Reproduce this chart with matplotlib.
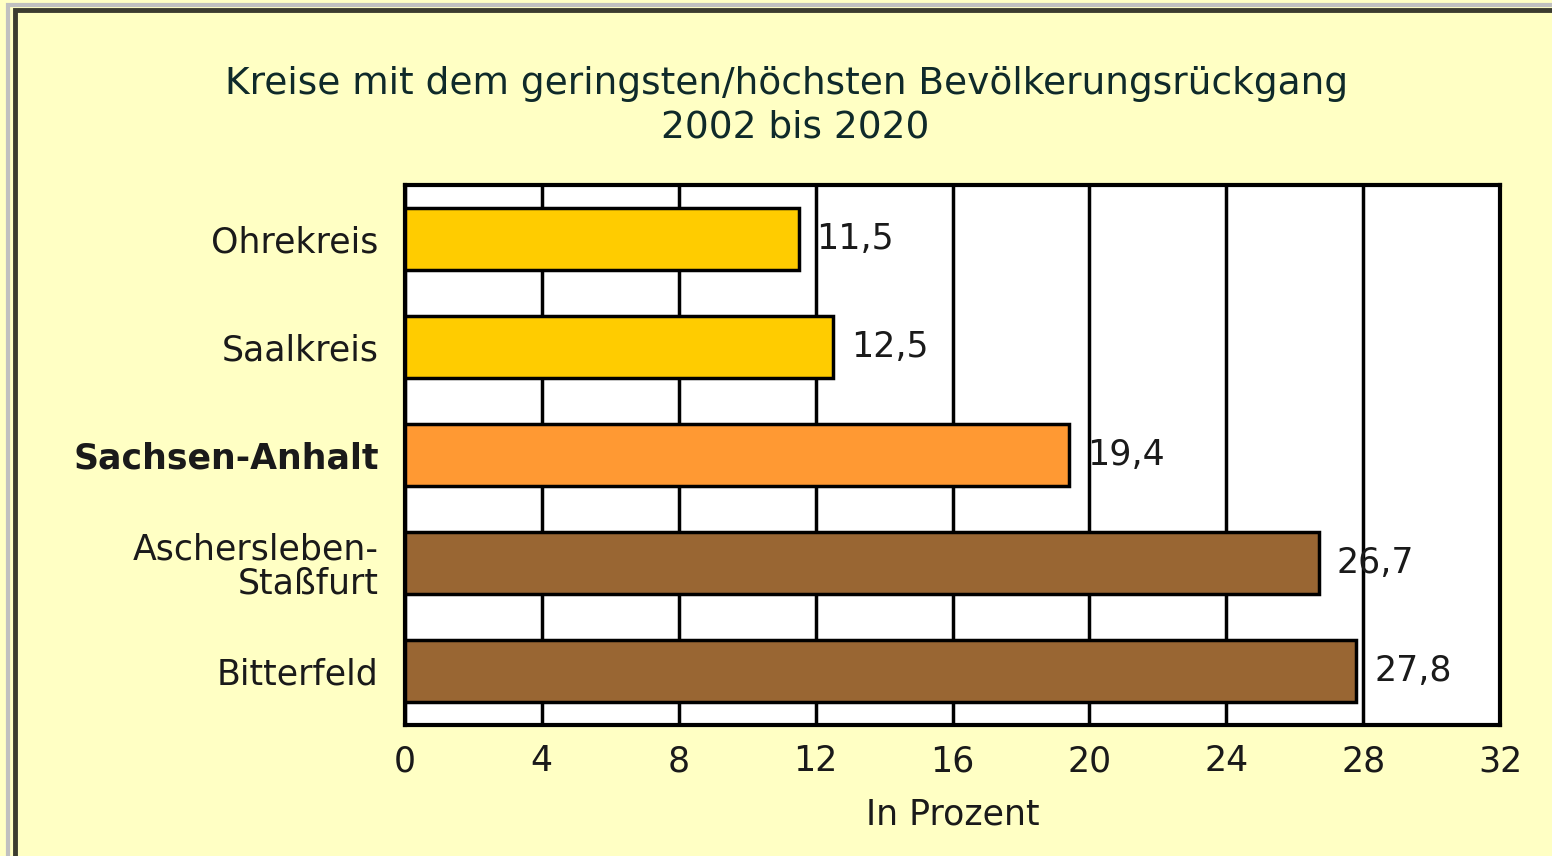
import matplotlib
matplotlib.use("Agg")
import matplotlib.pyplot as plt
from matplotlib.patches import Rectangle

# Daten
kreise = ["Ohrekreis", "Saalkreis", "Sachsen-Anhalt", "Aschersleben-\nStaßfurt", "Bitterfeld"]
rueckgang = [11.5, 12.5, 19.4, 26.7, 27.8]
farben = ["#FFCC00", "#FFCC00", "#FF9933", "#996633", "#996633"]
x_ticks = [0, 4, 8, 12, 16, 20, 24, 28, 32]

plt.rcParams["font.family"] = ["DejaVu Sans"]
bg = "#FFFFC4"
txt = "#1A1A1A"
fs = 25

fig = plt.figure(figsize=(15.52, 8.56), dpi=100)
fig.patch.set_facecolor(bg)

# Rahmen oben/links
fig.add_artist(Rectangle((8 / 1552, -0.1), 1.2, (856 - 5) / 856 + 0.1, transform=fig.transFigure,
                         facecolor="none", edgecolor="#C0C0C0", linewidth=3))
fig.add_artist(Rectangle((15 / 1552, -0.1), 1.2, (856 - 10) / 856 + 0.1, transform=fig.transFigure,
                         facecolor="none", edgecolor="#3C3C30", linewidth=3.5))

ax = fig.add_axes([405 / 1552, 1 - 725 / 856, 1095 / 1552, 540 / 856])
ax.set_facecolor("white")

pos = list(range(len(kreise)))
ax.barh(pos, rueckgang, height=0.58, color=farben, edgecolor="black", linewidth=2.5, zorder=3)

for p, v in zip(pos, rueckgang):
    ax.annotate(f"{v:.1f}".replace(".", ","), (v, p), xytext=(13, 0), textcoords="offset points",
                ha="left", va="center", fontsize=fs, color=txt, zorder=4)

ax.set_xlim(0, 32)
ax.set_ylim(len(kreise) - 0.5, -0.5)
ax.set_xticks(x_ticks)
ax.set_xticklabels([str(t) for t in x_ticks], fontsize=fs, color=txt)
ax.set_yticks(pos)
ax.set_yticklabels(kreise, fontsize=fs, color=txt, ha="right", multialignment="right",
                   linespacing=1.0)
ax.get_yticklabels()[2].set_fontweight("bold")
ax.tick_params(axis="x", length=0, pad=14)
ax.tick_params(axis="y", length=0, pad=19)
ax.xaxis.grid(True, color="black", linewidth=2.5, zorder=1)
for s in ax.spines.values():
    s.set_linewidth(3)
    s.set_color("black")

ax.set_xlabel("In Prozent", fontsize=fs, color=txt, labelpad=14)

fig.text(787 / 1552, 1 - 84 / 856, "Kreise mit dem geringsten/höchsten Bevölkerungsrückgang",
         ha="center", va="center", fontsize=27, color="#0F2A2A")
fig.text(795 / 1552, 1 - 128 / 856, "2002 bis 2020",
         ha="center", va="center", fontsize=27, color="#0F2A2A")

fig.savefig("out.png", dpi=100, facecolor=bg)
